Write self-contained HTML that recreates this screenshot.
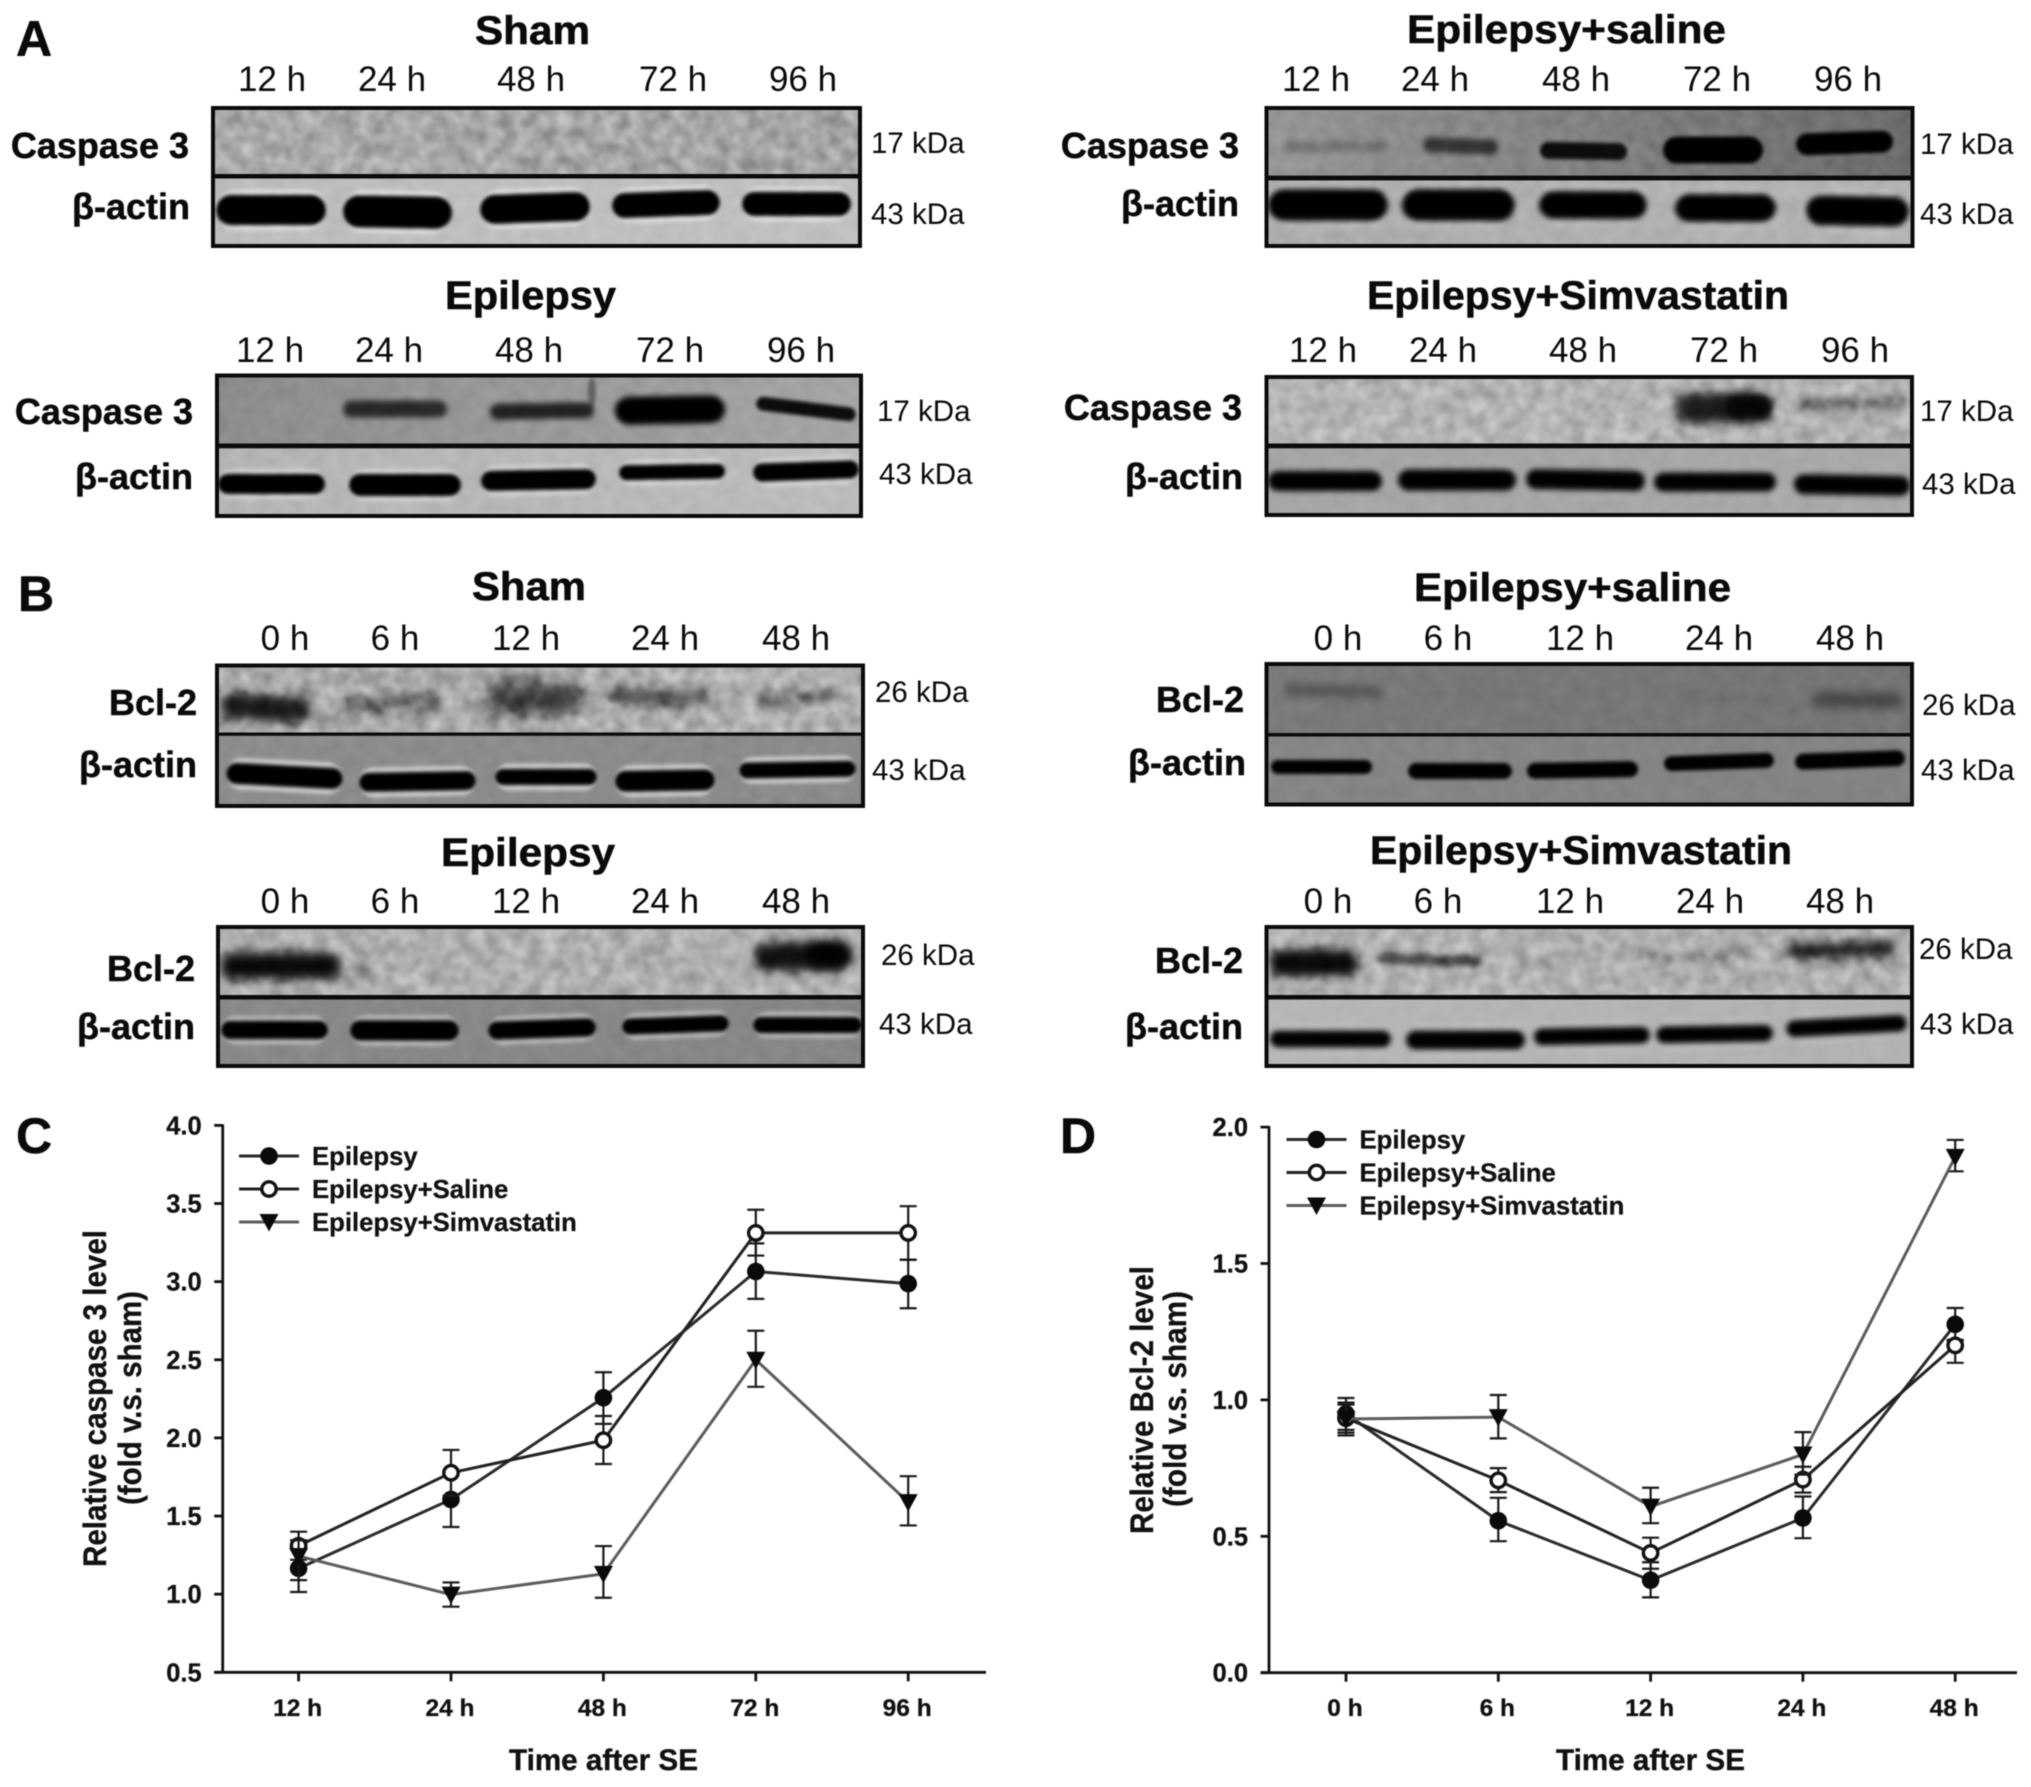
<!DOCTYPE html>
<html lang="en">
<head>
<meta charset="utf-8">
<title>Caspase 3 and Bcl-2 western blots and time-course charts</title>
<style>
html,body{margin:0;padding:0;background:#fff;}
body{width:2031px;height:1787px;overflow:hidden;}
svg{display:block;font-family:"Liberation Sans",Arial,sans-serif;filter:blur(0.45px);}
.t{font-weight:700;font-size:40px;fill:#0a0a0a;stroke:#0a0a0a;stroke-width:.6px;}
.h{font-size:35px;fill:#0a0a0a;text-anchor:middle;}
.l{font-weight:700;font-size:36px;fill:#0a0a0a;text-anchor:end;stroke:#0a0a0a;stroke-width:.5px;}
.k{font-size:29.5px;fill:#0a0a0a;}
.p{font-weight:700;font-size:50px;fill:#0a0a0a;stroke:#0a0a0a;stroke-width:.5px;}
.lg{font-weight:700;font-size:25.7px;fill:#111;stroke:#111;stroke-width:.3px;}
.at{font-weight:700;font-size:29.5px;fill:#111;stroke:#111;stroke-width:.4px;}
.yt{font-weight:700;font-size:32px;fill:#111;stroke:#111;stroke-width:.3px;}
.tk{font-weight:700;fill:#111;stroke:#111;stroke-width:.3px;}
</style>
</head>
<body>
<svg id="fig" xmlns="http://www.w3.org/2000/svg" width="2031" height="1787" viewBox="0 0 2031 1787">
<defs id="defs">
<filter id="grain" x="0" y="0" width="100%" height="100%" color-interpolation-filters="sRGB"><feTurbulence type="fractalNoise" baseFrequency="0.07" numOctaves="2" seed="7"/><feColorMatrix type="matrix" values="1.5 0 0 0 -0.25  1.5 0 0 0 -0.25  1.5 0 0 0 -0.25  0 0 0 0 1"/><feGaussianBlur stdDeviation="1.2"/></filter>
<filter id="b1" x="-30%" y="-150%" width="160%" height="400%"><feGaussianBlur stdDeviation="1.8"/></filter>
<filter id="b2" x="-30%" y="-150%" width="160%" height="400%"><feGaussianBlur stdDeviation="2.8"/></filter>
<filter id="b3" x="-30%" y="-150%" width="160%" height="400%"><feGaussianBlur stdDeviation="5"/></filter>
<filter id="b4" x="-30%" y="-200%" width="160%" height="500%"><feGaussianBlur stdDeviation="7.5"/></filter>
</defs>

<g id="blot-layer"></g>

<g>
<text class="p" x="16" y="56">A</text>
<text class="p" x="18" y="611">B</text>
<text class="p" x="16" y="1153">C</text>
<text class="p" x="1060" y="1153">D</text>
</g>

<g>
<text class="t" x="475" y="44" textLength="115" lengthAdjust="spacingAndGlyphs">Sham</text>
<text class="h" x="272" y="91">12 h</text>
<text class="h" x="392" y="91">24 h</text>
<text class="h" x="531" y="91">48 h</text>
<text class="h" x="673" y="91">72 h</text>
<text class="h" x="803" y="91">96 h</text>
<text class="l" x="189" y="158">Caspase 3</text>
<text class="l" x="190" y="219">β-actin</text>
<text class="k" x="871" y="153">17 kDa</text>
<text class="k" x="871" y="224">43 kDa</text>
</g>

<g>
<text class="t" x="445" y="309" textLength="171" lengthAdjust="spacingAndGlyphs">Epilepsy</text>
<text class="h" x="270" y="362">12 h</text>
<text class="h" x="389" y="362">24 h</text>
<text class="h" x="529" y="362">48 h</text>
<text class="h" x="670" y="362">72 h</text>
<text class="h" x="801" y="362">96 h</text>
<text class="l" x="193" y="424">Caspase 3</text>
<text class="l" x="193" y="489">β-actin</text>
<text class="k" x="877" y="421">17 kDa</text>
<text class="k" x="879" y="484">43 kDa</text>
</g>

<g>
<text class="t" x="1407" y="43" textLength="319" lengthAdjust="spacingAndGlyphs">Epilepsy+saline</text>
<text class="h" x="1316" y="91">12 h</text>
<text class="h" x="1435" y="91">24 h</text>
<text class="h" x="1576" y="91">48 h</text>
<text class="h" x="1717" y="91">72 h</text>
<text class="h" x="1848" y="91">96 h</text>
<text class="l" x="1239" y="158">Caspase 3</text>
<text class="l" x="1239" y="216">β-actin</text>
<text class="k" x="1920" y="154">17 kDa</text>
<text class="k" x="1920" y="224">43 kDa</text>
</g>

<g>
<text class="t" x="1367" y="309" textLength="422" lengthAdjust="spacingAndGlyphs">Epilepsy+Simvastatin</text>
<text class="h" x="1323" y="362">12 h</text>
<text class="h" x="1443" y="362">24 h</text>
<text class="h" x="1583" y="362">48 h</text>
<text class="h" x="1724" y="362">72 h</text>
<text class="h" x="1855" y="362">96 h</text>
<text class="l" x="1242" y="420">Caspase 3</text>
<text class="l" x="1243" y="489">β-actin</text>
<text class="k" x="1920" y="421">17 kDa</text>
<text class="k" x="1922" y="494">43 kDa</text>
</g>

<g>
<text class="t" x="472" y="600" textLength="114" lengthAdjust="spacingAndGlyphs">Sham</text>
<text class="h" x="285" y="650">0 h</text>
<text class="h" x="395" y="650">6 h</text>
<text class="h" x="526" y="650">12 h</text>
<text class="h" x="665" y="650">24 h</text>
<text class="h" x="796" y="650">48 h</text>
<text class="l" x="197" y="715">Bcl-2</text>
<text class="l" x="197" y="777">β-actin</text>
<text class="k" x="875" y="702">26 kDa</text>
<text class="k" x="872" y="780">43 kDa</text>
</g>

<g>
<text class="t" x="441" y="866" textLength="174" lengthAdjust="spacingAndGlyphs">Epilepsy</text>
<text class="h" x="285" y="913">0 h</text>
<text class="h" x="395" y="913">6 h</text>
<text class="h" x="526" y="913">12 h</text>
<text class="h" x="665" y="913">24 h</text>
<text class="h" x="796" y="913">48 h</text>
<text class="l" x="195" y="981">Bcl-2</text>
<text class="l" x="195" y="1039">β-actin</text>
<text class="k" x="881" y="965">26 kDa</text>
<text class="k" x="879" y="1034">43 kDa</text>
</g>

<g>
<text class="t" x="1414" y="601" textLength="317" lengthAdjust="spacingAndGlyphs">Epilepsy+saline</text>
<text class="h" x="1338" y="650">0 h</text>
<text class="h" x="1448" y="650">6 h</text>
<text class="h" x="1580" y="650">12 h</text>
<text class="h" x="1719" y="650">24 h</text>
<text class="h" x="1850" y="650">48 h</text>
<text class="l" x="1244" y="712">Bcl-2</text>
<text class="l" x="1246" y="775">β-actin</text>
<text class="k" x="1922" y="715">26 kDa</text>
<text class="k" x="1921" y="780">43 kDa</text>
</g>

<g>
<text class="t" x="1370" y="864" textLength="422" lengthAdjust="spacingAndGlyphs">Epilepsy+Simvastatin</text>
<text class="h" x="1328" y="913">0 h</text>
<text class="h" x="1438" y="913">6 h</text>
<text class="h" x="1570" y="913">12 h</text>
<text class="h" x="1710" y="913">24 h</text>
<text class="h" x="1840" y="913">48 h</text>
<text class="l" x="1243" y="973">Bcl-2</text>
<text class="l" x="1243" y="1039">β-actin</text>
<text class="k" x="1919" y="959">26 kDa</text>
<text class="k" x="1920" y="1034">43 kDa</text>
</g>

<g id="chart-c">
<text class="yt" transform="translate(106 1567) rotate(-90)" textLength="337" lengthAdjust="spacingAndGlyphs">Relative caspase 3 level</text>
<text class="yt" transform="translate(141 1505) rotate(-90)" textLength="214" lengthAdjust="spacingAndGlyphs">(fold v.s. sham)</text>
<text class="at" x="509" y="1770" textLength="189" lengthAdjust="spacingAndGlyphs">Time after SE</text>
</g>

<g id="chart-d">
<text class="yt" transform="translate(1153 1534) rotate(-90)" textLength="268" lengthAdjust="spacingAndGlyphs">Relative Bcl-2 level</text>
<text class="yt" transform="translate(1186 1507) rotate(-90)" textLength="216" lengthAdjust="spacingAndGlyphs">(fold v.s. sham)</text>
<text class="at" x="1556" y="1770" textLength="189" lengthAdjust="spacingAndGlyphs">Time after SE</text>
</g>
</svg>

<script>
/* ---------- chart C data ---------- */
const cCategories = ["12 h", "24 h", "48 h", "72 h", "96 h"];
const cTickValues = [0.5, 1.0, 1.5, 2.0, 2.5, 3.0, 3.5, 4.0];
const cTickLabels = ["0.5", "1.0", "1.5", "2.0", "2.5", "3.0", "3.5", "4.0"];
const cEpilepsy = [1.165, 1.606, 2.257, 3.065, 2.987];
const cEpilepsyUpper = [1.32, 1.78, 2.42, 3.245, 3.14];
const cEpilepsyLower = [1.014, 1.43, 2.09, 2.89, 2.83];
const cSaline = [1.31, 1.777, 1.985, 3.312, 3.312];
const cSalineUpper = [1.40, 1.923, 2.14, 3.46, 3.483];
const cSalineLower = [1.22, 1.63, 1.833, 3.167, 3.14];
const cSimvastatin = [1.244, 0.997, 1.13, 2.5, 1.589];
const cSimvastatinUpper = [1.345, 1.075, 1.308, 2.686, 1.755];
const cSimvastatinLower = [1.09, 0.92, 0.977, 2.327, 1.44];

/* ---------- chart D data ---------- */
const dCategories = ["0 h", "6 h", "12 h", "24 h", "48 h"];
const dTickValues = [0.0, 0.5, 1.0, 1.5, 2.0];
const dTickLabels = ["0.0", "0.5", "1.0", "1.5", "2.0"];
const dEpilepsy = [0.949, 0.557, 0.339, 0.567, 1.277];
const dEpilepsyUpper = [1.007, 0.641, 0.405, 0.646, 1.337];
const dEpilepsyLower = [0.89, 0.482, 0.276, 0.493, 1.217];
const dSaline = [0.933, 0.705, 0.439, 0.708, 1.2];
const dSalineUpper = [0.99, 0.75, 0.495, 0.755, 1.22];
const dSalineLower = [0.88, 0.662, 0.381, 0.66, 1.136];
const dSimvastatin = [0.93, 0.937, 0.609, 0.80, 1.891];
const dSimvastatinUpper = [0.983, 1.018, 0.678, 0.882, 1.953];
const dSimvastatinLower = [0.87, 0.859, 0.548, 0.726, 1.838];

const legendNames = ["Epilepsy", "Epilepsy+Saline", "Epilepsy+Simvastatin"];

const SVGNS = "http://www.w3.org/2000/svg";
function mk(tag, attrs, parent) {
  const e = document.createElementNS(SVGNS, tag);
  for (const k in attrs) e.setAttribute(k, attrs[k]);
  parent.appendChild(e);
  return e;
}

function marker(kind, cx, cy, parent) {
  let m;
  if (kind === "filled") {
    m = mk("circle", {cx: cx, cy: cy, r: 8.8, fill: "#0a0a0a"}, parent);
  } else if (kind === "open") {
    m = mk("circle", {cx: cx, cy: cy, r: 7.2, fill: "#fff", stroke: "#111", "stroke-width": 3.4}, parent);
  } else {
    m = mk("polygon", {points: (cx - 9.5) + "," + (cy - 8) + " " + (cx + 9.5) + "," + (cy - 8) + " " + cx + "," + (cy + 9.5), fill: "#0a0a0a"}, parent);
  }
  
  
  return m;
}

function drawChart(cfg) {
  const root = document.getElementById(cfg.id);
  const xs = function (i) { return cfg.x0 + i * cfg.step; };
  const ys = function (v) { return cfg.yBase - (v - cfg.yMin) * cfg.yUnit; };

  const axes = mk("g", {stroke: "#111", "stroke-width": 2.8, fill: "none"}, root);
  
  
  const yTop = ys(cfg.ticks[cfg.ticks.length - 1]);
  const yAxis = mk("line", {x1: cfg.axisX, x2: cfg.axisX, y1: yTop - 1, y2: cfg.yBase + 1}, axes);
  
  
  const xAxis = mk("line", {x1: cfg.axisX - 8.5, x2: cfg.axisEnd, y1: cfg.yBase, y2: cfg.yBase}, axes);
  
  

  cfg.ticks.forEach(function (v, i) {
    const tick = mk("line", {x1: cfg.axisX - 8.5, x2: cfg.axisX, y1: ys(v), y2: ys(v)}, axes);
    
    
    const lab = mk("text", {class: "tk", x: cfg.axisX - 21, y: ys(v) + 9, "text-anchor": "end", "font-size": 25.5}, root);
    
    
    lab.textContent = cfg.tickLabels[i];
  });
  cfg.categories.forEach(function (c, i) {
    const tick = mk("line", {x1: xs(i), x2: xs(i), y1: cfg.yBase, y2: cfg.yBase + 9}, axes);
    
    
    const lab = mk("text", {class: "tk", x: xs(i) - 1, y: 1716, "text-anchor": "middle", "font-size": 24.5}, root);
    
    
    lab.textContent = c;
  });

  cfg.series.forEach(function (s) {
    const g = mk("g", {}, root);
    
    
    const pts = s.values.map(function (v, i) { return xs(i) + "," + ys(v); }).join(" ");
    s.values.forEach(function (v, i) {
      const eb = mk("path", {
        d: "M" + xs(i) + " " + ys(s.upper[i]) + "V" + ys(s.lower[i]) +
           "M" + (xs(i) - 8.5) + " " + ys(s.upper[i]) + "h17" +
           "M" + (xs(i) - 8.5) + " " + ys(s.lower[i]) + "h17",
        stroke: "#1a1a1a", "stroke-width": 2.2, fill: "none"}, g);
      
      
    });
    const line = mk("polyline", {points: pts, fill: "none", stroke: s.color, "stroke-width": 3}, g);
    
    
    s.values.forEach(function (v, i) { marker(s.kind, xs(i), ys(v), g); });
  });

  const leg = mk("g", {}, root);
  
  
  cfg.series.forEach(function (s, i) {
    const entry = mk("g", {}, leg);
    
    
    const y = cfg.legendY + i * cfg.legendGap;
    mk("line", {x1: cfg.legendX, x2: cfg.legendX + 60, y1: y, y2: y, stroke: s.color, "stroke-width": 3}, entry);
    marker(s.kind, cfg.legendX + 30, y, entry);
    const t = mk("text", {class: "lg", x: cfg.legendX + 73, y: y + 9}, entry);
    
    
    t.textContent = legendNames[i];
  });
}

drawChart({
  id: "chart-c", x0: 298.6, step: 152.4, yBase: 1672.3, yMin: 0.5, yUnit: 156.26,
  axisX: 222.7, axisEnd: 986, legendX: 239, legendY: 1156, legendGap: 33,
  ticks: cTickValues, tickLabels: cTickLabels, categories: cCategories,
  series: [
    {name: "series-epilepsy", kind: "filled", color: "#2a2a2a", values: cEpilepsy, upper: cEpilepsyUpper, lower: cEpilepsyLower},
    {name: "series-saline", kind: "open", color: "#222", values: cSaline, upper: cSalineUpper, lower: cSalineLower},
    {name: "series-simvastatin", kind: "tri", color: "#5c5c5c", values: cSimvastatin, upper: cSimvastatinUpper, lower: cSimvastatinLower}
  ]
});
drawChart({
  id: "chart-d", x0: 1346, step: 152.3, yBase: 1672.7, yMin: 0, yUnit: 272.8,
  axisX: 1269, axisEnd: 2017, legendX: 1286.5, legendY: 1139.5, legendGap: 33,
  ticks: dTickValues, tickLabels: dTickLabels, categories: dCategories,
  series: [
    {name: "series-epilepsy", kind: "filled", color: "#2a2a2a", values: dEpilepsy, upper: dEpilepsyUpper, lower: dEpilepsyLower},
    {name: "series-saline", kind: "open", color: "#222", values: dSaline, upper: dSalineUpper, lower: dSalineLower},
    {name: "series-simvastatin", kind: "tri", color: "#5c5c5c", values: dSimvastatin, upper: dSimvastatinUpper, lower: dSimvastatinLower}
  ]
});

/* ---------- western blots: [x1, x2, centreY, height, opacity, blurId, angle] ---------- */
const blots = [
 {name:"blot-a-sham", x1:211,x2:862,y1:106,y2:248,d1:174,d2:178.5, bgTop:["#a9a9a9","#a4a4a4"], bgBot:["#bdbdbd","#c0c0c0"], grainTop:.35, grainBot:.1, halo:.55,
  top:[], bot:[[216,326,210,30,1,"b1",0],[343,452,212,32,1,"b1",1],[480,590,208,29,1,"b1",-2],[612,720,204,25,1,"b1",-2],[742,851,204,24,1,"b1",0]]},
 {name:"blot-a-epilepsy", x1:215,x2:863,y1:373.5,y2:518,d1:443.5,d2:448.3, bgTop:["#8c8c8c","#a5a5a5"], bgBot:["#b4b4b4","#bcbcbc"], grainTop:.08, grainBot:.1, halo:.4,
  top:[[343,447,409,17,.72,"b2",0],[490,594,411,16,.78,"b2",-1],[588,596,392,30,.35,"b1",0],[615,725,410,28,1,"b2",-1],[756,856,409,14,.92,"b1",7]],
  bot:[[218,325,484,20,1,"b1",0],[349,461,485,22,1,"b1",0],[481,596,480,20,1,"b1",-1],[619,725,472,15,1,"b1",-1],[753,859,471,18,1,"b1",-2]]},
 {name:"blot-a-saline", x1:1264.5,x2:1914.5,y1:106,y2:248,d1:175.6,d2:180.4, bgTop:["#959595","#6b6b6b"], bgBot:["#adadad","#b3b3b3"], grainTop:.1, grainBot:.1, halo:.25,
  top:[[1284,1391,146,10,.18,"b2",0],[1423,1498,146,15,.62,"b2",2],[1540,1627,151,17,.9,"b1",1],[1663,1763,150,27,1,"b1",0],[1796,1893,143,22,1,"b1",-2]],
  bot:[[1268,1388,205,32,1,"b2",0],[1402,1515,205,32,1,"b2",0],[1539,1647,205,28,1,"b2",0],[1675,1776,208,28,1,"b2",0],[1806,1909,211,30,1,"b2",1]]},
 {name:"blot-a-simvastatin", x1:1264.5,x2:1914,y1:375,y2:517,d1:443.5,d2:448.3, bgTop:["#b4b4b4","#b2b2b2"], bgBot:["#a5a5a5","#a9a9a9"], grainTop:.35, grainBot:.06, halo:0,
  top:[[1676,1773,408,30,.85,"b3",0],[1725,1772,406,24,.75,"b2",0],[1799,1909,403,12,.38,"b3",0]],
  bot:[[1268,1382,481,20,1,"b2",0],[1398,1516,480,21,1,"b2",0],[1526,1645,480,20,1,"b2",1],[1654,1776,482,19,1,"b2",0],[1794,1910,485,20,1,"b2",1]]},
 {name:"blot-b-sham", x1:215,x2:865,y1:663.5,y2:808,d1:732.5,d2:735.8, bgTop:["#a8a8a8","#b2b2b2"], bgBot:["#8c8c8c","#8a8a8a"], grainTop:.4, grainBot:.06, halo:.6,
  top:[[220,311,708,25,.85,"b3",3],[343,440,704,17,.42,"b3",-2],[485,582,699,32,.65,"b4",0],[605,709,697,17,.5,"b3",0],[757,841,698,15,.36,"b3",0]],
  bot:[[226,343,776,21,1,"b1",3],[359,476,781.5,19,1,"b1",-1],[495,597,777,16,1,"b1",0],[615,715,780.6,21,1,"b1",-1],[739,856,769.6,16,1,"b1",-1]]},
 {name:"blot-b-epilepsy", x1:216,x2:865,y1:925,y2:1068,d1:995,d2:999.5, bgTop:["#aeaeae","#b0b0b0"], bgBot:["#888888","#868686"], grainTop:.35, grainBot:.06, halo:.4,
  top:[[220,340,966,26,.95,"b3",0],[754,851,957,28,.9,"b3",0],[805,851,954,25,.9,"b3",0],[345,375,972,16,.18,"b3",0],[625,650,960,10,.1,"b3",0]],
  bot:[[221,328,1030,18,1,"b1",0],[350,459,1030.5,20,1,"b1",0],[488,596,1029,18,1,"b1",-2],[622,729,1025,16,1,"b1",-2],[753,862,1025,16,1,"b1",0]]},
 {name:"blot-b-saline", x1:1264.5,x2:1914,y1:662,y2:806.5,d1:733,d2:736.5, bgTop:["#7a7a7a","#747474"], bgBot:["#858585","#838383"], grainTop:.06, grainBot:.04, halo:0,
  top:[[1284,1384,691,10,.36,"b3",2],[1412,1530,693,5,.08,"b3",0],[1680,1780,698,5,.1,"b3",-1],[1812,1903,700,14,.42,"b3",0]],
  bot:[[1271,1372,767,14,1,"b1",0],[1408,1512,771,16,1,"b1",0],[1527,1638,770,16,1,"b1",-1],[1664,1774,762,15,1,"b1",-2],[1795,1905,760,16,1,"b1",-2]]},
 {name:"blot-b-simvastatin", x1:1264.5,x2:1914,y1:925,y2:1068,d1:995,d2:999.5, bgTop:["#b3b3b3","#aeaeae"], bgBot:["#b6b6b6","#b2b2b2"], grainTop:.35, grainBot:.05, halo:.2,
  top:[[1269,1358,963,27,.95,"b3",0],[1378,1482,960,11,.58,"b2",1],[1515,1620,960,6,.12,"b3",0],[1637,1747,956,8,.28,"b3",-2],[1786,1896,950,15,.85,"b3",-2]],
  bot:[[1270,1391,1039,17,1,"b2",0],[1406,1525,1040,19,1,"b2",0],[1534,1650,1036,17,1,"b2",-1],[1656,1773,1034,17,1,"b2",-1],[1786,1907,1026,17,1,"b2",-3]]}
];

const layer = document.getElementById("blot-layer");
const defs = document.getElementById("defs");

function drawBand(b, parent, fill, dy, grow, opMul) {
  const r = mk("rect", {
    x: b[0], y: b[2] - b[3] / 2 - grow + dy, width: b[1] - b[0], height: b[3] + 2 * grow,
    rx: (b[3] + 2 * grow) / 2, fill: fill, opacity: b[4] * opMul, filter: "url(#" + b[5] + ")",
    transform: "rotate(" + b[6] + " " + ((b[0] + b[1]) / 2) + " " + b[2] + ")"
  }, parent);
  
  
}

blots.forEach(function (p, idx) {
  const g = mk("g", {}, layer);
  
  

  const clip = mk("clipPath", {id: "clip" + idx}, defs);
  mk("rect", {x: p.x1, y: p.y1, width: p.x2 - p.x1, height: p.y2 - p.y1}, clip);

  [["Top", p.bgTop], ["Bot", p.bgBot]].forEach(function (pair) {
    const grad = mk("linearGradient", {id: "g" + idx + pair[0]}, defs);
    mk("stop", {offset: "0", "stop-color": pair[1][0]}, grad);
    mk("stop", {offset: "1", "stop-color": pair[1][1]}, grad);
  });

  const inner = mk("g", {"clip-path": "url(#clip" + idx + ")"}, g);
  
  

  const yMid = (p.d1 + p.d2) / 2;
  mk("rect", {x: p.x1, y: p.y1, width: p.x2 - p.x1, height: yMid - p.y1, fill: "url(#g" + idx + "Top)"}, inner);
  mk("rect", {x: p.x1, y: yMid, width: p.x2 - p.x1, height: p.y2 - yMid, fill: "url(#g" + idx + "Bot)"}, inner);

  if (p.halo > 0) {
    p.bot.forEach(function (b) {
      drawBand(b, inner, "#f2f2f2", 0, 5.5, p.halo);
    });
  }
  p.top.forEach(function (b) { drawBand(b, inner, "#000", 0, 0, 1); });
  p.bot.forEach(function (b) { drawBand(b, inner, "#000", 0, 0, 1); });

  const n1 = mk("rect", {x: p.x1, y: p.y1, width: p.x2 - p.x1, height: yMid - p.y1, filter: "url(#grain)", opacity: p.grainTop, style: "mix-blend-mode:overlay"}, inner);
  
  
  const n2 = mk("rect", {x: p.x1, y: yMid, width: p.x2 - p.x1, height: p.y2 - yMid, filter: "url(#grain)", opacity: p.grainBot, style: "mix-blend-mode:overlay"}, inner);
  
  

  const div = mk("rect", {x: p.x1, y: p.d1, width: p.x2 - p.x1, height: p.d2 - p.d1, fill: "#0a0a0a"}, g);
  
  
  const frame = mk("rect", {x: p.x1 + 2, y: p.y1 + 2, width: p.x2 - p.x1 - 4, height: p.y2 - p.y1 - 4, fill: "none", stroke: "#0a0a0a", "stroke-width": 4}, g);
  
  
});
</script>
</body>
</html>
